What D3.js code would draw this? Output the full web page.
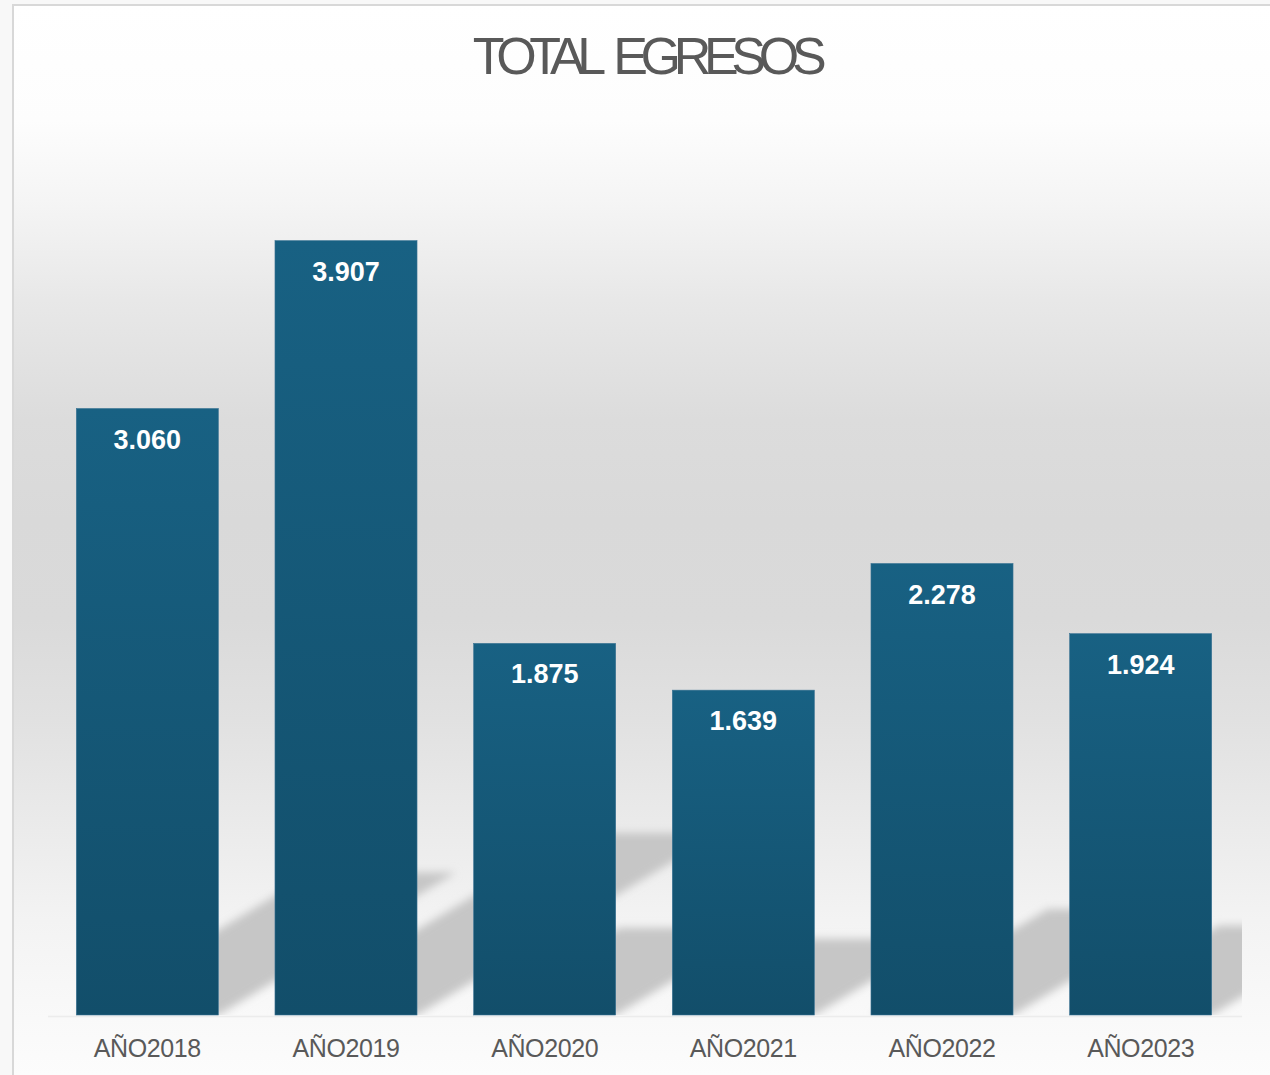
<!DOCTYPE html>
<html>
<head>
<meta charset="utf-8">
<script src="https://cdn.jsdelivr.net/npm/d3@7"></script>
<style>
  html, body { margin: 0; padding: 0; background: #f8f8f8; }
  svg { display: block; }
</style>
</head>
<body>
<svg id="chart" width="1270" height="1075"></svg>
<script>
const title = "TOTAL EGRESOS";
const categories = ["AÑO2018", "AÑO2019", "AÑO2020", "AÑO2021", "AÑO2022", "AÑO2023"];
const values = [3060, 3907, 1875, 1639, 2278, 1924];

const W = 1270, H = 1075;
const base = 1015;
const svg = d3.select("#chart");
const defs = svg.append("defs");

// background gradient
const bg = defs.append("linearGradient").attr("id", "bg")
  .attr("gradientUnits", "userSpaceOnUse")
  .attr("x1", 0).attr("y1", 5).attr("x2", 0).attr("y2", H);
[[5, "#ffffff"], [120, "#fdfdfd"], [200, "#f5f5f5"], [300, "#e8e8e8"], [420, "#dcdcdc"],
 [520, "#d9d9d9"], [620, "#dadada"], [720, "#e1e1e1"], [830, "#ebebeb"], [920, "#f3f3f3"],
 [1000, "#f8f8f8"], [1075, "#fcfcfc"]].forEach(([yy, c]) => {
  bg.append("stop").attr("offset", (yy - 5) / (H - 5)).attr("stop-color", c);
});

// bar gradient
const bg2 = defs.append("linearGradient").attr("id", "barGrad")
  .attr("x1", 0).attr("y1", 0).attr("x2", 0).attr("y2", 1);
bg2.append("stop").attr("offset", 0).attr("stop-color", "#186183");
bg2.append("stop").attr("offset", 1).attr("stop-color", "#124e6a");

// blur filter
const f = defs.append("filter").attr("id", "blur")
  .attr("x", "-20%").attr("y", "-20%").attr("width", "140%").attr("height", "140%");
f.append("feGaussianBlur").attr("stdDeviation", 4);

defs.append("clipPath").attr("id", "plotClip")
  .append("rect").attr("x", 14).attr("y", 6).attr("width", 1228).attr("height", base - 6);

// frame
svg.append("rect").attr("x", 0).attr("y", 0).attr("width", W).attr("height", H).attr("fill", "#f8f8f8");
svg.append("rect").attr("x", 13).attr("y", 5).attr("width", W + 10).attr("height", H + 10)
  .attr("fill", "url(#bg)").attr("stroke", "#d8d8d8").attr("stroke-width", 2);

// scales
const x = d3.scaleBand().domain(categories).range([48, 1240])
  .paddingInner(0.285).paddingOuter(0.1425);
const y = d3.scaleLinear().domain([0, 4000]).range([base, base - 4000 * 0.1982]);

const data = categories.map((c, i) => ({ c, v: values[i] }));

// shadows
const shadowG = svg.append("g").attr("clip-path", "url(#plotClip)")
  .append("g").attr("filter", "url(#blur)");
const k = 0.235, slope = 0.6;
shadowG.selectAll("path").data(data).join("path")
  .attr("fill", "#c6c6c6")
  .attr("d", d => {
    const x0 = x(d.c), x1 = x0 + x.bandwidth();
    const h = base - y(d.v);
    const v = k * h, dx = v / slope;
    return `M${x0},${base}L${x1},${base}L${x1 + dx},${base - v}L${x0 + dx},${base - v}Z`;
  });

// faint baseline
svg.append("line").attr("x1", 48).attr("x2", 1242).attr("y1", base + 1.5).attr("y2", base + 1.5)
  .attr("stroke", "#ececec").attr("stroke-width", 1.5);

// bars
svg.append("g").selectAll("rect").data(data).join("rect")
  .attr("x", d => x(d.c))
  .attr("y", d => y(d.v))
  .attr("width", x.bandwidth())
  .attr("height", d => base - y(d.v))
  .attr("fill", "url(#barGrad)")
  .attr("stroke", "#3a7393").attr("stroke-width", 0.6);

// value labels
const loc = d3.formatLocale({ decimal: ",", thousands: ".", grouping: [3], currency: ["", ""] });
const fmt = loc.format(",d");
svg.append("g").selectAll("text").data(data).join("text")
  .attr("x", d => x(d.c) + x.bandwidth() / 2)
  .attr("y", d => y(d.v) + 40)
  .attr("text-anchor", "middle")
  .attr("font-family", "'Liberation Sans', Arial, sans-serif")
  .attr("font-weight", "bold")
  .attr("font-size", 27)
  .attr("fill", "#ffffff")
  .text(d => fmt(d.v));

// category axis labels
const xAxis = d3.axisBottom(x).tickSize(0).tickPadding(0);
const ax = svg.append("g").attr("transform", `translate(0,${base})`).call(xAxis);
ax.select(".domain").remove();
ax.selectAll("text")
  .attr("y", 42)
  .attr("dy", 0)
  .attr("font-family", "'Liberation Sans', Arial, sans-serif")
  .attr("font-size", 25)
  .attr("letter-spacing", -0.4)
  .attr("fill", "#595959");

// title
svg.append("text")
  .attr("x", 646).attr("y", 74)
  .attr("text-anchor", "middle")
  .attr("font-family", "'Liberation Sans', Arial, sans-serif")
  .attr("font-size", 52)
  .attr("letter-spacing", -7.3)
  .attr("word-spacing", 9)
  .attr("fill", "#595959")
  .text(title);
</script>
</body>
</html>
